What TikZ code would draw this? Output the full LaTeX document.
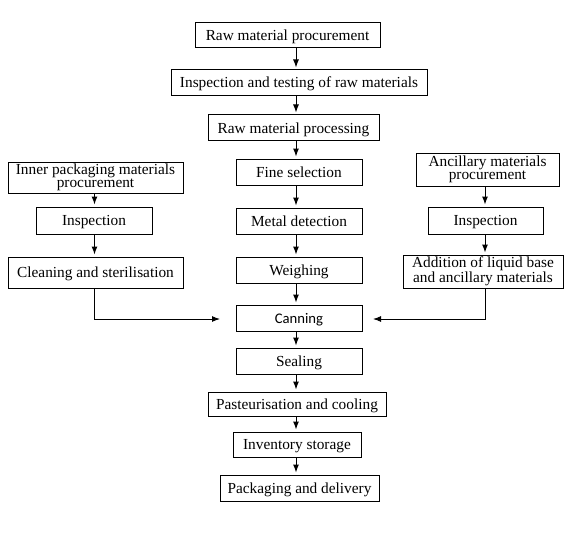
\documentclass[tikz,border=0pt]{standalone}
\usepackage{fontspec}
\setmainfont{Liberation Serif}
\newfontfamily\canfont{Carlito}
\usepackage{tikz}
\usetikzlibrary{arrows.meta}

\begin{document}
\begin{tikzpicture}[x=0.75pt, y=-0.75pt, line width=0.75pt,
  font=\fontsize{11.5pt}{11pt}\selectfont,
  stage/.style={draw, inner sep=1pt, align=center, text height=9pt, text depth=1.5pt},
  twoline/.style={draw, inner sep=0.5pt, align=center, font=\fontsize{11.5pt}{10pt}\selectfont},
  flow/.style={-{Latex[length=6pt,width=4.5pt]}, shorten >=1.5pt}]
\useasboundingbox (0,0) rectangle (568,535);
% main column
\node[stage, minimum width=138.75pt, minimum height=18.75pt](rmp) at (287.5,35.5) {Raw material procurement};
\node[stage, minimum width=192pt, minimum height=19.5pt](itr) at (299,83) {Inspection and testing of raw materials};
\node[stage, minimum width=128.25pt, minimum height=19.5pt](rpr) at (293.5,128) {Raw material processing};
\node[stage, minimum width=94.5pt, minimum height=19.5pt](fsel) at (299,172) {Fine selection};
\node[stage, minimum width=94.5pt, minimum height=19.5pt](mdet) at (299,221) {Metal detection};
\node[stage, minimum width=94.5pt, minimum height=19.5pt](wgh) at (299,270) {Weighing};
\node[stage, minimum width=94.5pt, minimum height=19.5pt, font=\canfont\fontsize{11pt}{11pt}\selectfont](can) at (299,318) {Canning};
\node[stage, minimum width=94.5pt, minimum height=19.5pt](seal) at (299,361) {Sealing};
\node[stage, minimum width=133.5pt, minimum height=18pt](past) at (297,404) {Pasteurisation and cooling};
\node[stage, minimum width=96pt, minimum height=18.75pt](inv) at (297,444.5) {Inventory storage};
\node[stage, minimum width=119.25pt, minimum height=19.5pt](pack) at (299.5,488) {Packaging and delivery};
% left column
\node[twoline, minimum width=131.25pt, minimum height=23.25pt](ipm) at (95.5,177.5) {Inner packaging materials\\procurement};
\node[stage, minimum width=87pt, minimum height=20.25pt](linsp) at (94,220.5) {Inspection};
\node[stage, minimum width=131.25pt, minimum height=23.25pt](cls) at (95.5,272.5) {Cleaning and sterilisation};
% right column
\node[twoline, minimum width=107.25pt, minimum height=24.75pt](anc) at (487.5,169.5) {Ancillary materials\\procurement};
\node[stage, minimum width=86.25pt, minimum height=20.25pt](rinsp) at (485.5,220.5) {Inspection};
\node[twoline, minimum width=120pt, minimum height=24.75pt](add) at (483,271.5) {Addition of liquid base\\and ancillary materials};
% arrows
\coordinate (spine) at (296,0);
\coordinate (lspine) at (94.5,0);
\coordinate (rspine) at (485,0);
\foreach \a/\b in {rmp/itr, itr/rpr, rpr/fsel, fsel/mdet, mdet/wgh, wgh/can, can/seal, seal/past, past/inv, inv/pack}
{
	\draw[flow] (spine |- \a.south) -- (spine |- \b.north);
}
\foreach \a/\b in {ipm/linsp, linsp/cls}
{
	\draw[flow] (lspine |- \a.south) -- (lspine |- \b.north);
}
\foreach \a/\b in {anc/rinsp, rinsp/add}
{
	\draw[flow] (rspine |- \a.south) -- (rspine |- \b.north);
}
\coordinate (canL) at (220,319);
\coordinate (canR) at (373,319);
\draw[flow, shorten >=0pt] (lspine |- cls.south) |- (canL);
\draw[flow, shorten >=0pt] (rspine |- add.south) |- (canR);
\end{tikzpicture}
\end{document}
